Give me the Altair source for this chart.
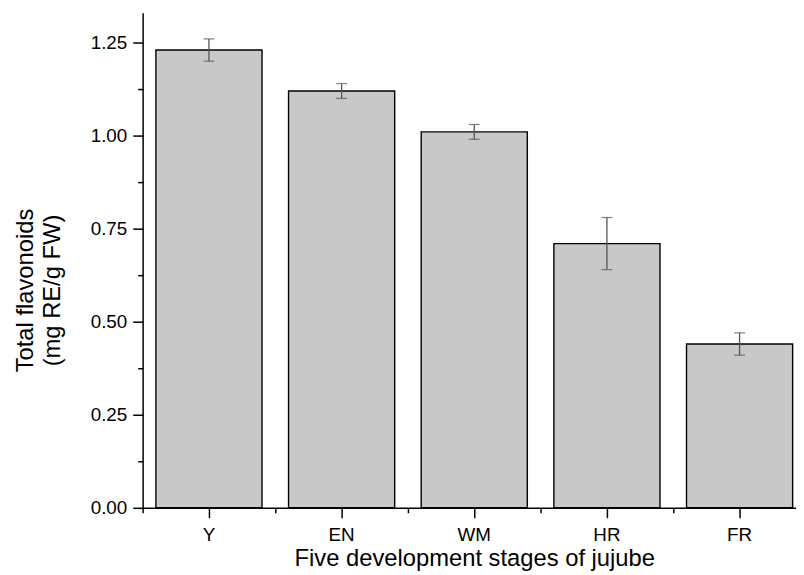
import altair as alt
import pandas as pd

stages = ["Y", "EN", "WM", "HR", "FR"]
values = [1.23, 1.12, 1.01, 0.71, 0.44]
errors = [0.03, 0.02, 0.02, 0.07, 0.03]

major_y = [0.0, 0.25, 0.5, 0.75, 1.0, 1.25]
minor_y = [0.125, 0.375, 0.625, 0.875, 1.125]

df = pd.DataFrame({"stage": stages, "value": values, "err": errors})
df["lo"] = df["value"] - df["err"]
df["hi"] = df["value"] + df["err"]

FONT = "Liberation Sans"
xscale = alt.Scale(paddingInner=0.2, paddingOuter=0.1)
yscale = alt.Scale(domain=[0, 1.33], nice=False, zero=True)

base = alt.Chart(df)

bars = base.mark_bar(fill="#c8c8c8", stroke="black", strokeWidth=1.4).encode(
    x=alt.X("stage:N", sort=stages, scale=xscale,
            axis=alt.Axis(title="Five development stages of jujube", labelAngle=0,
                          tickSize=10, labelPadding=8, titleX=335, titleY=58,
                          titleAlign="center", titleBaseline="alphabetic")),
    y=alt.Y("value:Q", scale=yscale,
            axis=alt.Axis(title=["Total flavonoids", "(mg RE/g FW)"], values=major_y,
                          format=".2f", tickSize=10, labelPadding=6,
                          titleAngle=270, titleX=-111, titleY=280,
                          titleAlign="center", titleBaseline="alphabetic",
                          titleLineHeight=27)),
)

rule = base.mark_rule(color="#555555", strokeWidth=1.3).encode(
    x=alt.X("stage:N", sort=stages,
            axis=alt.Axis(orient="bottom", bandPosition=0, tickOffset=-13.4, tickSize=5,
                          labels=False, domain=False, title=None)),
    y=alt.Y("lo:Q", axis=alt.Axis(orient="left", values=minor_y, tickSize=5,
                                  labels=False, domain=False, title=None)),
    y2="hi:Q",
)

cap_lo = base.mark_tick(color="#555555", size=11, thickness=1.3).encode(
    x=alt.X("stage:N", sort=stages, axis=None),
    y=alt.Y("lo:Q", axis=None),
)
cap_hi = base.mark_tick(color="#555555", size=11, thickness=1.3).encode(
    x=alt.X("stage:N", sort=stages, axis=None),
    y=alt.Y("hi:Q", axis=None),
)

chart = (
    alt.layer(bars, rule, cap_lo, cap_hi)
    .resolve_axis(x="independent", y="independent")
    .properties(width=670, height=500,
                autosize=alt.AutoSizeParams(type="none"),
                padding={"left": 136, "top": 2, "right": -10, "bottom": 65})
    .configure_view(stroke=None)
    .configure_axis(domainColor="black", domainWidth=1.5, tickColor="black", tickWidth=1.5,
                    labelFont=FONT, labelFontSize=19, labelColor="black",
                    titleFont=FONT, titleFontSize=24, titleFontWeight="normal", titleColor="black",
                    grid=False)
)

chart.save("out.html", embed_options={"renderer": "svg", "actions": False})
